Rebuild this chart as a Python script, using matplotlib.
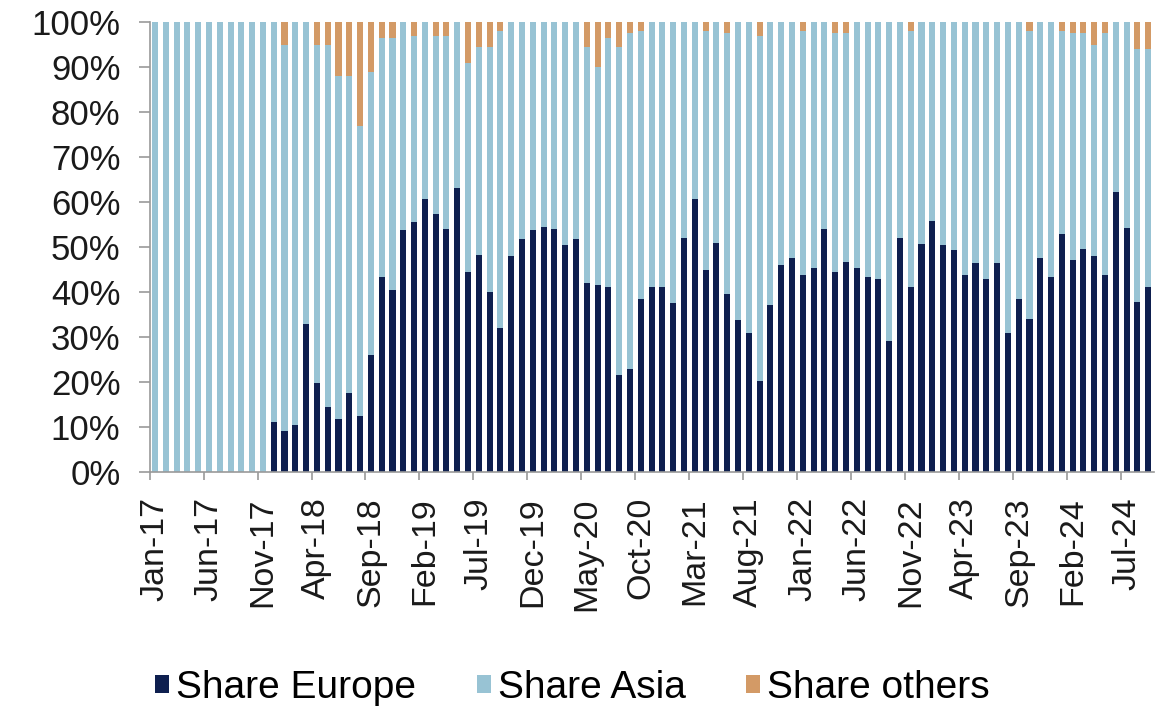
import matplotlib
matplotlib.use("Agg")
import matplotlib.pyplot as plt
from matplotlib.ticker import FixedLocator, FuncFormatter
import numpy as np
import pandas as pd

plt.rcParams['font.family'] = ['Liberation Sans', 'DejaVu Sans']

# Monthly categories Jan-17 .. Sep-24
months = pd.date_range('2017-01-01', periods=93, freq='MS').strftime('%b-%y').tolist()

# Share of Europe (%)
share_europe = [
    0, 0, 0, 0, 0, 0, 0, 0, 0, 0, 0,
    11.2, 9.2, 10.4, 33.0, 19.9, 14.5, 11.7, 17.6, 12.4, 26.0, 43.3, 40.4,
    53.8, 55.6, 60.7, 57.3, 54.1, 63.2, 44.5, 48.2, 40.1, 32.1, 48.1, 51.9,
    53.8, 54.4, 54.1, 50.4, 51.7, 42.1, 41.6, 41.2, 21.6, 22.9, 38.4,
    41.2, 41.1, 37.6, 52.1, 60.6, 44.9, 51.0, 39.5, 33.8, 31.0, 20.3, 37.1,
    46.0, 47.5, 43.8, 45.4, 54.0, 44.5, 46.7, 45.3, 43.4, 42.8, 29.2,
    52.1, 41.2, 50.6, 55.9, 50.5, 49.3, 43.9, 46.4, 42.9, 46.4, 31.0, 38.4,
    34.1, 47.5, 43.4, 52.9, 47.1, 49.6, 48.1, 43.9, 62.3, 54.3, 37.9, 41.2,
]

# Share of other regions (%)
share_others = [
    0, 0, 0, 0, 0, 0, 0, 0, 0, 0, 0,
    0, 5.0, 0, 0, 5.0, 5.0, 12.0, 12.0, 23.0, 11.0, 3.5, 3.5,
    0, 3.0, 0, 3.0, 3.0, 0, 9.0, 5.5, 5.5, 2.0, 0, 0,
    0, 0, 0, 0, 0, 5.5, 10.0, 3.5, 5.5, 2.5, 2.0,
    0, 0, 0, 0, 0, 2.0, 0, 2.5, 0, 0, 3.0, 0,
    0, 0, 2.0, 0, 0, 2.5, 2.5, 0, 0, 0, 0,
    0, 2.0, 0, 0, 0, 0, 0, 0, 0, 0, 0, 0,
    2.0, 0, 0, 2.0, 2.5, 2.5, 5.0, 2.5, 0, 0, 6.0, 6.0,
]

# Asia takes the remainder of each month
share_asia = [100 - e - o for e, o in zip(share_europe, share_others)]

col_europe = '#0e1f4f'
col_asia = '#98c3d4'
col_others = '#d39a66'

fig = plt.figure(figsize=(11.73, 7.12), dpi=100)
ax = fig.add_axes([0.1275, 0.337, 0.856, 0.632])

x = np.arange(len(months))
w = 0.56
eu = np.array(share_europe) / 100
asia = np.array(share_asia) / 100
oth = np.array(share_others) / 100

ax.bar(x, eu, width=w, color=col_europe, label='Share Europe', linewidth=0)
ax.bar(x, asia, width=w, bottom=eu, color=col_asia, label='Share Asia', linewidth=0)
ax.bar(x, oth, width=w, bottom=eu + asia, color=col_others, label='Share others', linewidth=0)

ax.set_xlim(-0.5, len(months) - 0.5)
ax.set_ylim(0, 1)

# y axis
ax.set_yticks(np.arange(0, 1.01, 0.1))
ax.yaxis.set_major_formatter(FuncFormatter(lambda v, p: f'{v * 100:.0f}%'))
ax.tick_params(axis='y', labelsize=25, length=8, width=1.2, color='#9a9a9a',
               direction='out', pad=13, labelcolor='#1a1a1a')

# x axis: labels every 5 months, tick marks on category boundaries
label_pos = x[::5]
ax.xaxis.set_major_locator(FixedLocator(label_pos))
ax.set_xticklabels([months[i] for i in label_pos], rotation=90)
ax.xaxis.set_minor_locator(FixedLocator(np.arange(-0.5, len(months), 5)))
ax.tick_params(axis='x', which='major', length=0, labelsize=24.5, pad=18,
               labelcolor='#1a1a1a')
ax.tick_params(axis='x', which='minor', length=6, width=1.2, color='#9a9a9a',
               direction='out')

for side in ('top', 'right'):
    ax.spines[side].set_visible(False)
for side in ('left', 'bottom'):
    ax.spines[side].set_color('#9a9a9a')
    ax.spines[side].set_linewidth(1.2)

fig.legend(loc='center', bbox_to_anchor=(0.488, 0.034), ncol=3, frameon=False,
           fontsize=28, handlelength=0.36, handleheight=0.36, handletextpad=0.18,
           columnspacing=1.55, borderaxespad=0)

fig.savefig('out.png', dpi=100, facecolor='white')
